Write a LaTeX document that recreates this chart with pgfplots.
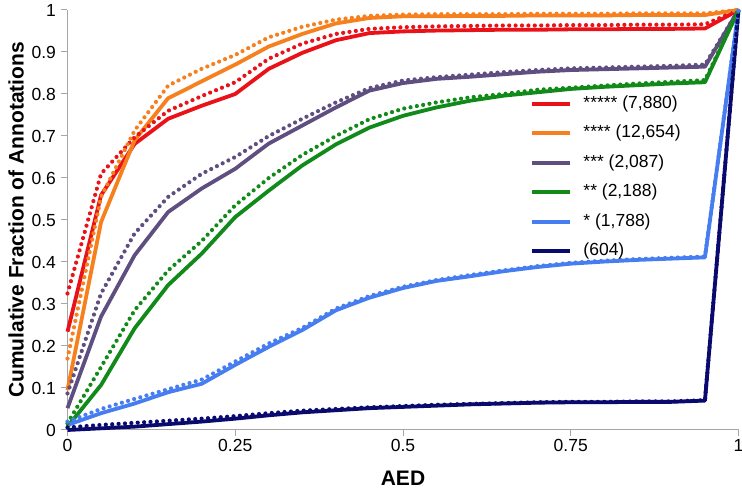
\documentclass[border=0pt]{standalone}
\usepackage{fontspec}
\setmainfont{Liberation Sans}
\usepackage{pgfplots}
\usepackage{pgfplotstable}
\pgfplotsset{compat=1.18}

\definecolor{cRed}{RGB}{232,18,24}
\definecolor{cOrange}{RGB}{247,128,30}
\definecolor{cPurple}{RGB}{94,79,128}
\definecolor{cGreen}{RGB}{17,138,26}
\definecolor{cBlue}{RGB}{70,125,240}
\definecolor{cNavy}{RGB}{10,10,110}

\tikzset{
  solidline/.style={line width=3.8pt, line join=round},
  dotline/.style={line width=4.2pt, line cap=round, dash pattern=on 0pt off 6.4pt},
}

% solid = s, dotted = d; r o p g b n = the six groups
\pgfplotstableread{
x    rs    rd    os    od    ps    pd    gs    gd    bs    bd    ns    nd
0    0.234 0.325 0.095 0.170 0.052 0.087 0.008 0.016 0.012 0.020 0.000 0.006
0.05 0.559 0.610 0.495 0.555 0.270 0.325 0.107 0.150 0.040 0.050 0.004 0.012
0.10 0.681 0.697 0.690 0.713 0.416 0.468 0.242 0.285 0.063 0.074 0.008 0.017
0.15 0.741 0.760 0.790 0.820 0.519 0.555 0.345 0.380 0.090 0.097 0.014 0.022
0.20 0.772 0.795 0.830 0.860 0.575 0.610 0.420 0.450 0.110 0.120 0.020 0.027
0.25 0.800 0.828 0.870 0.893 0.622 0.650 0.507 0.535 0.155 0.163 0.027 0.033
0.30 0.860 0.884 0.913 0.935 0.682 0.700 0.570 0.600 0.198 0.206 0.035 0.040
0.35 0.898 0.920 0.943 0.960 0.725 0.741 0.630 0.655 0.238 0.243 0.042 0.046
0.40 0.928 0.943 0.968 0.977 0.768 0.780 0.680 0.700 0.285 0.289 0.047 0.050
0.45 0.945 0.955 0.981 0.986 0.808 0.814 0.720 0.740 0.315 0.319 0.052 0.054
0.50 0.949 0.959 0.985 0.989 0.826 0.832 0.748 0.765 0.338 0.341 0.055 0.057
0.55 0.951 0.961 0.985 0.990 0.836 0.840 0.768 0.780 0.355 0.357 0.058 0.060
0.60 0.952 0.962 0.986 0.990 0.841 0.846 0.784 0.792 0.366 0.369 0.061 0.062
0.65 0.953 0.963 0.986 0.990 0.847 0.852 0.796 0.800 0.378 0.380 0.063 0.064
0.70 0.953 0.963 0.987 0.991 0.853 0.857 0.804 0.810 0.388 0.390 0.065 0.066
0.75 0.954 0.964 0.987 0.991 0.857 0.861 0.812 0.815 0.396 0.398 0.066 0.067
0.80 0.954 0.964 0.987 0.991 0.859 0.863 0.817 0.820 0.401 0.403 0.066 0.067
0.85 0.955 0.965 0.988 0.992 0.861 0.865 0.821 0.825 0.405 0.407 0.067 0.068
0.90 0.955 0.965 0.988 0.992 0.863 0.867 0.825 0.829 0.408 0.410 0.067 0.068
0.95 0.956 0.966 0.988 0.992 0.865 0.870 0.828 0.833 0.411 0.413 0.070 0.071
1    1     1     1     1     1     1     1     1     1     1     1     1
}\aed

\begin{document}
\begin{tikzpicture}
\useasboundingbox (-67.5pt,-59pt) rectangle (674.5pt,430pt);
\begin{axis}[
    at={(0,0)}, anchor=south west,
    scale only axis,
    width=671pt, height=420pt,
    xmin=0, xmax=1, ymin=0, ymax=1,
    clip=false,
    axis x line=bottom, axis y line=left,
    axis line style={-, draw=black!35, line width=1pt},
    tick style={draw=black!35, line width=1pt},
    tick align=outside,
    major tick length=6pt,
    xtick={0,0.25,0.5,0.75,1},
    ytick={0,0.1,...,1},
    /pgf/number format/assume math mode=true,
    tick label style={font=\fontsize{17.5}{20}\selectfont},
    yticklabel style={xshift=-2pt},
    xlabel={\textbf{AED}},
    ylabel={\textbf{Cumulative Fraction of Annotations}},
    label style={font=\fontsize{21}{24}\selectfont},
    xlabel style={at={(axis description cs:0.5,-0.131)}, anchor=base},
    ylabel style={at={(axis description cs:-0.0767,0.5)}, anchor=center},
    legend cell align=left,
    legend image code/.code={\draw[#1] (0pt,0pt) -- (38pt,0pt);},
    legend style={
        at={(axis cs:0.684,0.800)}, anchor=north west,
        draw=none, fill=none,
        font=\fontsize{17.5}{20}\selectfont,
        nodes={inner sep=0pt, text height=12pt, text depth=3pt},
        row sep=14.5pt, column sep=12pt,
    },
]
\addplot[cRed, solidline] table[x=x, y=rs] {\aed};
\addplot[cOrange, solidline] table[x=x, y=os] {\aed};
\addplot[cPurple, solidline] table[x=x, y=ps] {\aed};
\addplot[cGreen, solidline] table[x=x, y=gs] {\aed};
\addplot[cBlue, solidline] table[x=x, y=bs] {\aed};
\addplot[cNavy, solidline] table[x=x, y=ns] {\aed};
\legend{{***** (7,880)}, {**** (12,654)}, {*** (2,087)}, {** (2,188)}, {* (1,788)}, {(604)}}

\addplot[cRed, dotline, forget plot] table[x=x, y=rd] {\aed};
\addplot[cOrange, dotline, forget plot] table[x=x, y=od] {\aed};
\addplot[cPurple, dotline, forget plot] table[x=x, y=pd] {\aed};
\addplot[cGreen, dotline, forget plot] table[x=x, y=gd] {\aed};
\addplot[cBlue, dotline, forget plot] table[x=x, y=bd] {\aed};
\addplot[cNavy, dotline, forget plot] table[x=x, y=nd] {\aed};
\end{axis}
\end{tikzpicture}
\end{document}
